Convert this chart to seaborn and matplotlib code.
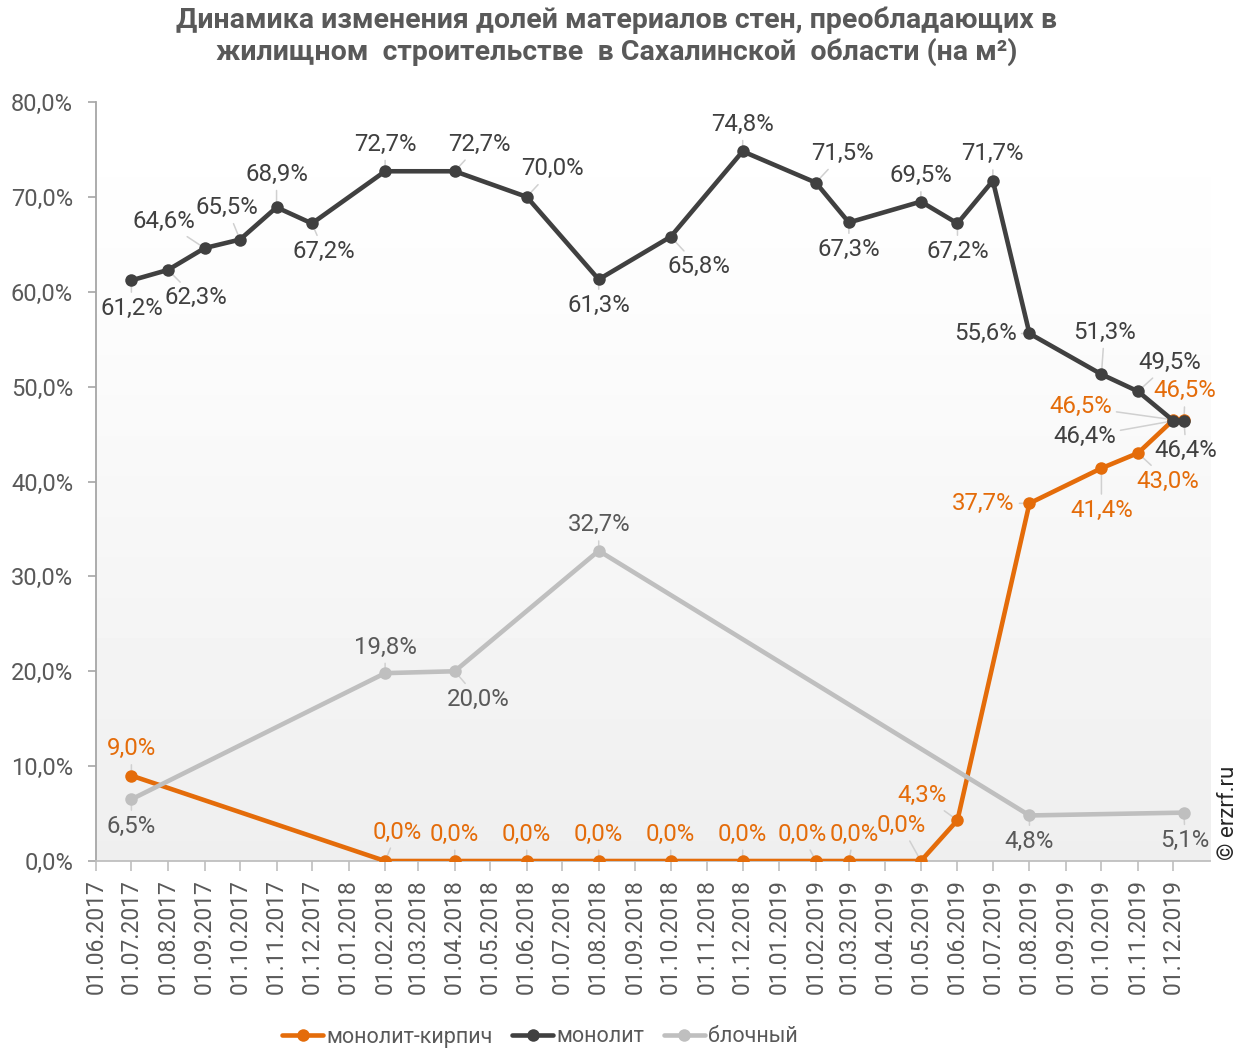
import numpy as np
import pandas as pd
import matplotlib
matplotlib.use('Agg')
import matplotlib.pyplot as plt
import matplotlib.dates as mdates
from matplotlib.lines import Line2D
import seaborn as sns

# монолит-кирпич
brick_dates = ['2017-07-01', '2018-02-01', '2018-04-01', '2018-06-01', '2018-08-01', '2018-10-01',
               '2018-12-01', '2019-02-01', '2019-03-01', '2019-05-01', '2019-06-01', '2019-08-01',
               '2019-10-01', '2019-11-01', '2019-12-01', '2019-12-10']
brick_vals = [9.0, 0.0, 0.0, 0.0, 0.0, 0.0, 0.0, 0.0, 0.0, 0.0, 4.3, 37.7, 41.4, 43.0, 46.5, 46.5]

# монолит
mono_dates = ['2017-07-01', '2017-08-01', '2017-09-01', '2017-10-01', '2017-11-01', '2017-12-01',
              '2018-02-01', '2018-04-01', '2018-06-01', '2018-08-01', '2018-10-01', '2018-12-01',
              '2019-02-01', '2019-03-01', '2019-05-01', '2019-06-01', '2019-07-01', '2019-08-01',
              '2019-10-01', '2019-11-01', '2019-12-01', '2019-12-10']
mono_vals = [61.2, 62.3, 64.6, 65.5, 68.9, 67.2, 72.7, 72.7, 70.0, 61.3, 65.8, 74.8,
             71.5, 67.3, 69.5, 67.2, 71.7, 55.6, 51.3, 49.5, 46.4, 46.4]

# блочный
block_dates = ['2017-07-01', '2018-02-01', '2018-04-01', '2018-08-01', '2019-08-01', '2019-12-10']
block_vals = [6.5, 19.8, 20.0, 32.7, 4.8, 5.1]

series_names = ['монолит-кирпич', 'монолит', 'блочный']
title = ('Динамика изменения долей материалов стен, преобладающих в\n'
         'жилищном  строительстве  в Сахалинской  области (на м²)')

# label offsets in pixels (dx, dy)
brick_off = [(0, 27), (12, 29), (0, 27), (0, 27), (0, 27), (0, 27), (0, 27), (-14, 27), (5, 27),
             (-20, 36), (-35, 25), (-46, 0), (0, -42), (30, -28), (-93, 13), (1, 29)]
mono_off = [(0, -28), (28, -28), (-41, 27), (-13, 32), (0, 33), (12, -28), (0, 27), (25, 27),
            (26, 28), (0, -26), (28, -30), (0, 27), (27, 29), (0, -27), (0, 26), (0, -28),
            (0, 27), (-44, 0), (3, 42), (32, 29), (-89, -16), (2, -30)]
block_off = [(0, -27), (0, 26), (24, -28), (0, 26), (0, -26), (1, -28)]

colors = ['#E46C0A', '#404040', '#BFBFBF']
label_colors = ['#E46C0A', '#404040', '#595959']

sns.set_theme(style='white')
plt.rcParams['font.family'] = ['Roboto', 'DejaVu Sans']

fig = plt.figure(figsize=(12.48, 10.49), dpi=100)
ax = fig.add_axes([96 / 1248, 1 - 861 / 1049, (1210 - 96) / 1248, (861 - 102) / 1049])

# plot area gradient
grad = np.concatenate([np.linspace(0.936, 0.99, 60), np.linspace(0.99, 1.0, 20)])[::-1]
ax.imshow(grad.reshape(-1, 1), cmap='gray', vmin=0, vmax=1, aspect='auto',
          extent=[0, 1, 0, 1], transform=ax.transAxes, zorder=0, interpolation='bilinear')

all_data = [(brick_dates, brick_vals, brick_off), (mono_dates, mono_vals, mono_off),
            (block_dates, block_vals, block_off)]
for (d, v, off), name, c, lc in zip(all_data, series_names, colors, label_colors):
    df = pd.DataFrame({'date': pd.to_datetime(d), 'value': v})
    sns.lineplot(data=df, x='date', y='value', ax=ax, color=c, linewidth=3.3, marker='o',
                 markersize=9, markeredgewidth=0, markeredgecolor=c, zorder=3)
    for xd, yv, (dx, dy) in zip(df['date'], v, off):
        ax.annotate(f'{yv:.1f}%'.replace('.', ','), xy=(mdates.date2num(xd), yv),
                    xytext=(dx, dy), textcoords='offset pixels', ha='center', va='center',
                    fontsize=17.3, color=lc, zorder=2,
                    arrowprops=dict(arrowstyle='-', color='#D0D0D0', lw=1.1, shrinkA=1, shrinkB=4))

ax.set_xlim(mdates.date2num(pd.Timestamp('2017-06-01')), mdates.date2num(pd.Timestamp('2020-01-01')))
ax.set_ylim(0, 80)
ax.set_yticks(np.arange(0, 81, 10))
ax.set_yticklabels([f'{t:.1f}%'.replace('.', ',') for t in np.arange(0, 81, 10)])
ticks = pd.date_range('2017-06-01', '2019-12-01', freq='MS')
ax.set_xticks(mdates.date2num(ticks))
ax.set_xticklabels([t.strftime('%d.%m.%Y') for t in ticks], rotation=90)
ax.set_xlabel('')
ax.set_ylabel('')

ax.tick_params(axis='y', which='major', left=True, length=6, width=1.2, color='#A6A6A6',
               labelsize=17, labelcolor='#595959', pad=10.5)
ax.tick_params(axis='x', which='major', bottom=True, length=7, width=1.2, color='#BFBFBF',
               labelsize=16.5, labelcolor='#595959', pad=6)
for s in ['top', 'right']:
    ax.spines[s].set_visible(False)
ax.spines['left'].set_color('#A6A6A6')
ax.spines['left'].set_linewidth(1.3)
ax.spines['bottom'].set_color('#BFBFBF')
ax.spines['bottom'].set_linewidth(1.3)
ax.grid(False)

handles = [Line2D([0], [0], color=c, lw=3.3, marker='o', markersize=9, markeredgewidth=0)
           for c in colors]
leg = fig.legend(handles, series_names, loc='center', bbox_to_anchor=(540 / 1248, 12 / 1049),
                 ncol=3, frameon=False, fontsize=15.5, handlelength=1.9, handletextpad=0.15,
                 columnspacing=0.9)
for t in leg.get_texts():
    t.set_color('#595959')

fig.text(617 / 1248, 1 - 6 / 1049, title, ha='center', va='top', fontsize=20.5, fontweight='bold',
         color='#595959', linespacing=1.2)
fig.text(1228 / 1248, 1 - 813 / 1049, '© erzrf.ru', rotation=90, ha='center', va='center',
         fontsize=16, color='#262626')

fig.savefig('out.png', dpi=100)
